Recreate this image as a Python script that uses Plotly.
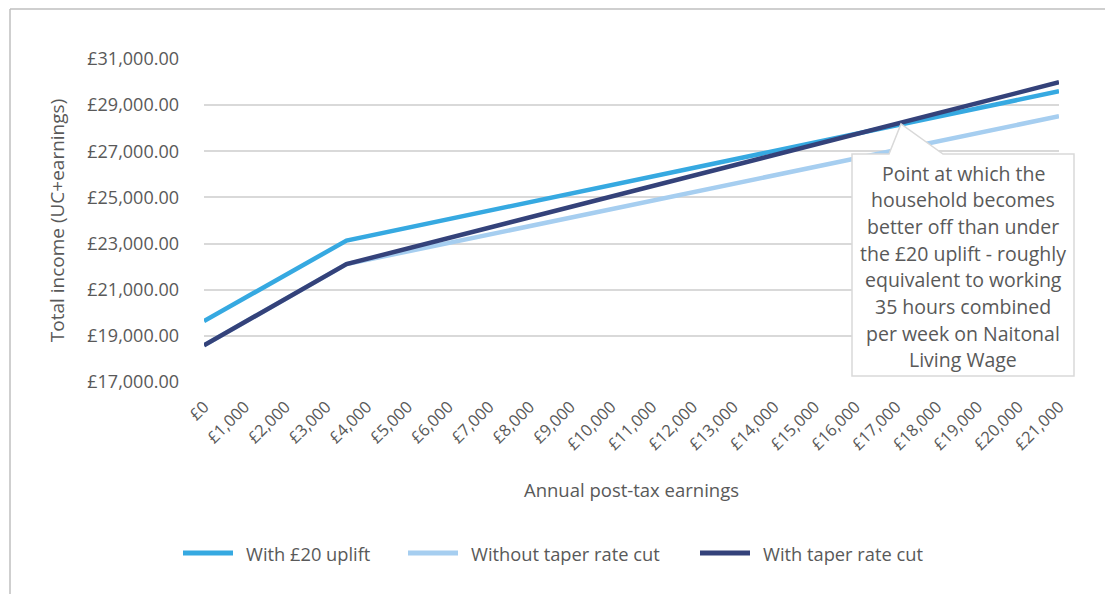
import plotly.graph_objects as go

# Annual post-tax earnings (£) at the points where each line changes slope
earnings = [0, 3500, 21000]

# Total income (UC + earnings), £ per year
with_uplift = [19640, 23130, 29600]
without_taper_cut = [18590, 22110, 28520]
with_taper_cut = [18590, 22110, 29990]

series_names = ["With £20 uplift", "Without taper rate cut", "With taper rate cut"]
series_colors = ["#36a9e1", "#a6cef0", "#34427a"]

x_tick_values = [0, 1000, 2000, 3000, 4000, 5000, 6000, 7000, 8000, 9000, 10000,
                 11000, 12000, 13000, 14000, 15000, 16000, 17000, 18000, 19000,
                 20000, 21000]
x_tick_labels = ["£0", "£1,000", "£2,000", "£3,000", "£4,000", "£5,000", "£6,000",
                 "£7,000", "£8,000", "£9,000", "£10,000", "£11,000", "£12,000",
                 "£13,000", "£14,000", "£15,000", "£16,000", "£17,000", "£18,000",
                 "£19,000", "£20,000", "£21,000"]

y_tick_values = [17000, 19000, 21000, 23000, 25000, 27000, 29000, 31000]
y_tick_labels = ["£17,000.00", "£19,000.00", "£21,000.00", "£23,000.00",
                 "£25,000.00", "£27,000.00", "£29,000.00", "£31,000.00"]

callout_lines = [
    "Point at which the",
    "household becomes",
    "better off than under",
    "the £20 uplift - roughly",
    "equivalent to working",
    "35 hours combined",
    "per week on Naitonal",
    "Living Wage",
]

FONT = "Open Sans"
TEXT = "#595959"
GRID = "#d9d9d9"

# page geometry (pixels) of the plotting area
W, H = 1105, 594
L, R, T, B = 204, 1059, 59, 382


def fx(x):
    return (x - L) / (R - L)


def fy(y):
    return (B - y) / (B - T)


fig = go.Figure()
for name, values, color in zip(series_names,
                               [with_uplift, without_taper_cut, with_taper_cut],
                               series_colors):
    fig.add_trace(go.Scatter(
        x=earnings, y=values, name=name, mode="lines",
        line=dict(color=color, width=4.5), showlegend=False,
        hovertemplate="£%{x:,}<br>£%{y:,.2f}<extra>" + name + "</extra>",
    ))

shapes = []
annotations = []

# outer frame (left and top rules)
shapes.append(dict(type="line", xref="paper", yref="paper",
                   x0=fx(10), x1=fx(10), y0=fy(9), y1=fy(H + 5),
                   line=dict(color="#bfbfbf", width=1.5)))
shapes.append(dict(type="line", xref="paper", yref="paper",
                   x0=fx(10), x1=fx(W + 5), y0=fy(9), y1=fy(9),
                   line=dict(color="#bfbfbf", width=1.5)))

# callout box with pointer
bx0, bx1, by0, by1 = 852, 1074, 154, 376
tip = (901, 124)
base_l, base_r = 889, 943
pts = [(bx0, by0), (base_l, by0), tip, (base_r, by0), (bx1, by0),
       (bx1, by1), (bx0, by1)]
path = "M " + " L ".join(f"{fx(a):.5f},{fy(b):.5f}" for a, b in pts) + " Z"
shapes.append(dict(type="path", xref="paper", yref="paper", path=path,
                   fillcolor="white", line=dict(color=GRID, width=1.5),
                   layer="above"))
cx = (bx0 + bx1) / 2
for i, line in enumerate(callout_lines):
    annotations.append(dict(
        xref="paper", yref="paper", x=fx(cx), y=fy(173.3 + i * 26.67),
        text=line, showarrow=False, xanchor="center", yanchor="middle",
        font=dict(family=FONT, size=19.5, color=TEXT)))

# legend drawn beneath the axis title
legend_y = 553
swatch_x = [183, 408, 700]
for name, color, sx in zip(series_names, series_colors, swatch_x):
    shapes.append(dict(type="line", xref="paper", yref="paper",
                       x0=fx(sx), x1=fx(sx + 50), y0=fy(legend_y), y1=fy(legend_y),
                       line=dict(color=color, width=5)))
    annotations.append(dict(
        xref="paper", yref="paper", x=fx(sx + 61), y=fy(legend_y),
        text=name, showarrow=False, xanchor="left", yanchor="middle",
        font=dict(family=FONT, size=18.3, color=TEXT)))

fig.update_layout(
    width=W, height=H,
    margin=dict(l=L, r=W - R, t=T, b=H - B, autoexpand=False),
    paper_bgcolor="white", plot_bgcolor="white",
    font=dict(family=FONT, color=TEXT),
    shapes=shapes, annotations=annotations,
    showlegend=False,
)

fig.update_xaxes(
    range=[0, 21000], tickmode="array", tickvals=x_tick_values,
    ticktext=x_tick_labels, tickangle=-45, showgrid=False, zeroline=False,
    showline=False, ticks="", ticklabelstandoff=11,
    tickfont=dict(family=FONT, size=16.5, color=TEXT),
    title=dict(text="Annual post-tax earnings", standoff=30,
               font=dict(family=FONT, size=18.5, color=TEXT)),
    automargin=False,
)
fig.update_yaxes(
    range=[17000, 31000], tickmode="array",
    tickvals=y_tick_values, ticktext=y_tick_labels,
    showgrid=True, gridcolor=GRID,
    gridwidth=1.5, zeroline=False, showline=False, ticks="",
    ticklabelstandoff=24, tickfont=dict(family=FONT, size=18, color=TEXT),
    title=dict(text="Total income (UC+earnings)", standoff=17,
               font=dict(family=FONT, size=19, color=TEXT)),
    automargin=False,
)

fig.write_html("out.html")
